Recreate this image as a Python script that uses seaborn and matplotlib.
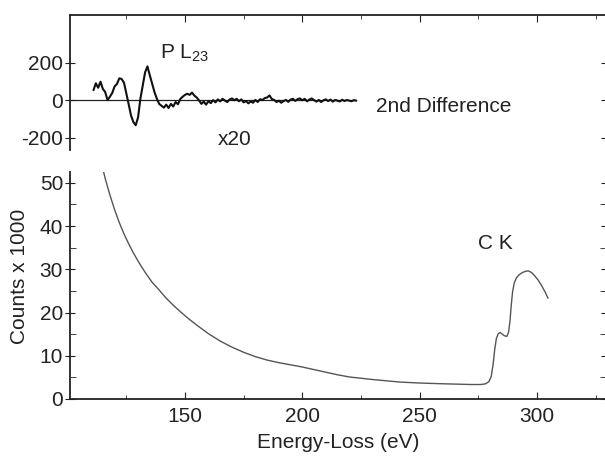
import numpy as np
import pandas as pd
import matplotlib
matplotlib.use("Agg")
import matplotlib.pyplot as plt
import seaborn as sns
from matplotlib.ticker import MultipleLocator

# ---------------- data ----------------
# 2nd difference spectrum (x20), sampled every 1 eV from 111 to 223 eV
diff_energy = np.arange(111, 224)
diff_values = [
    55, 92, 68, 100, 62, 45, 2, 20, 40, 75,          # 111-120
    88, 118, 115, 95, 38, -20, -80, -115, -132, -90,  # 121-130
    10, 80, 150, 182, 135, 90, 45, 10, -18, -28,      # 131-140
    -38, -22, -40, -18, -32, -8, -20, 8, 20, 30,      # 141-150
    36, 30, 42, 26, 16, 0, -18, -6, -22, -4,          # 151-160
    -14, 2, -10, 6, -5, 9, 0, -8, 5, 11,              # 161-170
    1, 9, -4, 6, -10, -3, -15, -5, -12, 3,            # 171-180
    -8, 7, 2, 13, 16, 27, 8, 3, -8, -1,               # 181-190
    -12, -3, 3, -7, 5, 9, -2, 7, 11, 1,               # 191-200
    9, -4, 5, 11, 2, -6, 3, -8, 1, 6,                 # 201-210
    -3, 5, -6, 3, -1, -5, 4, -3, 3, -1,               # 211-220
    -4, 2, -1,                                        # 221-223
]

# Raw spectrum (counts x 1000)
spec_energy = [112, 114, 116, 118, 120, 122, 124, 126, 128, 130,
               133, 136, 139, 142, 145, 148, 151, 155, 160, 165,
               170, 175, 180, 185, 190, 195, 200, 205, 210, 215,
               220, 225, 230, 236, 242, 250, 258, 265, 272, 276,
               278, 279.5, 280.5, 281.3, 282, 282.7, 283.5, 284.3, 285.2, 286.2,
               287.2, 287.9, 288.5, 289, 289.6, 290.3, 291.2, 292.5, 294, 295.5,
               296.5, 297.8, 299, 300.5, 302, 303.5, 304.7]
spec_counts = [60.5, 55.5, 51.0, 47.2, 43.8, 40.8, 38.2, 35.9, 33.8, 31.9,
               29.3, 27.0, 25.2, 23.3, 21.7, 20.2, 18.8, 17.1, 15.1, 13.4,
               12.0, 10.8, 9.8, 9.0, 8.4, 7.9, 7.4, 6.8, 6.2, 5.6,
               5.1, 4.8, 4.5, 4.2, 3.9, 3.7, 3.55, 3.45, 3.35, 3.35,
               3.5, 4.0, 5.2, 8.0, 11.5, 14.0, 15.1, 15.4, 15.0, 14.6,
               14.5, 15.5, 18.0, 21.5, 24.8, 26.8, 28.0, 28.8, 29.3, 29.6,
               29.6, 29.2, 28.5, 27.5, 26.2, 24.7, 23.3]

x_ticks = [150, 200, 250, 300]
top_yticks = [-200, 0, 200]
top_ylabels = ["-200", "0", "200"]
bottom_yticks = [0, 10, 20, 30, 40, 50]

XMIN, XMAX = 101, 329.5

df_diff = pd.DataFrame({"energy": diff_energy, "value": diff_values})
df_spec = pd.DataFrame({"energy": spec_energy, "counts": spec_counts})

# ---------------- style ----------------
sns.set_style("ticks")
plt.rcParams["font.family"] = ["Liberation Sans", "DejaVu Sans"]
plt.rcParams["mathtext.fontset"] = "custom"
plt.rcParams["mathtext.rm"] = "Liberation Sans"
FS = 15
ink = "#222222"

fig = plt.figure(figsize=(6.05, 4.57), dpi=100)
W, H = 605, 457
left = 70 / W
width = 1.0 - left + 0.002
ax_top = fig.add_axes([left, 1 - 150 / H, width, (150 - 15) / H])
ax_bot = fig.add_axes([left, 1 - 399 / H, width, (399 - 172) / H])

# ---------------- top panel ----------------
ax_top.hlines(0, XMIN, diff_energy[-1], color=ink, lw=0.9)
sns.lineplot(data=df_diff, x="energy", y="value", ax=ax_top,
             color="#111111", lw=1.5, estimator=None)
ax_top.set_xlim(XMIN, XMAX)
ax_top.set_ylim(-264, 456)
ax_top.set_yticks(top_yticks)
ax_top.set_yticklabels(top_ylabels)
ax_top.set_xticks(x_ticks)
ax_top.xaxis.set_minor_locator(MultipleLocator(25))
ax_top.tick_params(axis="x", which="both", top=True, bottom=False,
                   labeltop=False, labelbottom=False, direction="in",
                   length=5, color=ink)
ax_top.tick_params(axis="x", which="minor", length=3)
ax_top.tick_params(axis="y", which="both", left=True, right=True,
                   direction="inout", length=7, labelsize=FS, pad=1.5,
                   colors=ink)
for s in ["bottom", "right"]:
    ax_top.spines[s].set_visible(False)
for s in ["top", "left"]:
    ax_top.spines[s].set_linewidth(1.3)
    ax_top.spines[s].set_color(ink)
ax_top.set_xlabel("")
ax_top.set_ylabel("")

ax_top.text(139.3, 226, r"P L$_{\mathregular{23}}$", fontsize=FS, ha="left",
            va="baseline", color=ink)
ax_top.text(164.1, -237, "x20", fontsize=FS, ha="left", va="baseline", color=ink)
ax_top.text(231.2, -61, "2nd Difference", fontsize=FS, ha="left",
            va="baseline", color=ink)

# ---------------- bottom panel ----------------
sns.lineplot(data=df_spec, x="energy", y="counts", ax=ax_bot,
             color="#555555", lw=1.0, estimator=None)
ax_bot.set_xlim(XMIN, XMAX)
ax_bot.set_ylim(0, 52.5)
ax_bot.set_xticks(x_ticks)
ax_bot.xaxis.set_minor_locator(MultipleLocator(25))
ax_bot.set_yticks(bottom_yticks)
ax_bot.yaxis.set_minor_locator(MultipleLocator(5))
ax_bot.tick_params(axis="x", which="both", direction="in", length=5,
                   labelsize=FS, pad=6, colors=ink)
ax_bot.tick_params(axis="x", which="minor", length=3)
ax_bot.tick_params(axis="y", which="both", left=True, right=True,
                   direction="inout", length=7, labelsize=FS, pad=1.5,
                   colors=ink)
ax_bot.tick_params(axis="y", which="minor", direction="in", length=4)
for s in ["top", "right"]:
    ax_bot.spines[s].set_visible(False)
for s in ["bottom", "left"]:
    ax_bot.spines[s].set_linewidth(1.3)
    ax_bot.spines[s].set_color(ink)
ax_bot.set_xlabel("")
ax_bot.set_ylabel("")
ax_bot.text(274.8, 34.7, "C K", fontsize=FS, ha="left", va="baseline", color=ink)

fig.text(338 / W, 1 - 448 / H, "Energy-Loss (eV)", fontsize=FS, ha="center",
         va="baseline", color=ink)
fig.text(20 / W, 1 - 276 / H, "Counts x 1000", fontsize=FS, ha="center",
         va="center", rotation=90, color=ink)

fig.savefig("out.png", dpi=100)
